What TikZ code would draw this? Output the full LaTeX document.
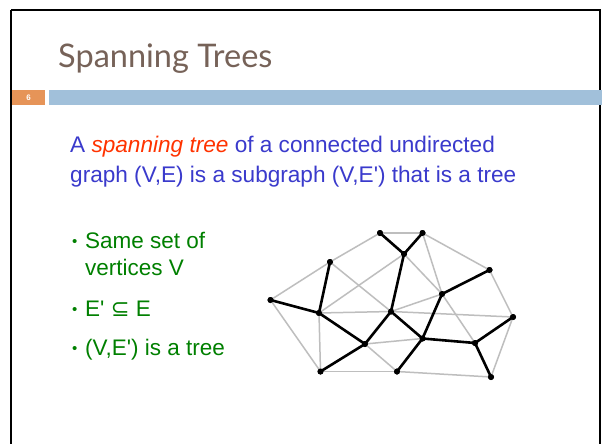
\documentclass[tikz,border=0pt]{standalone}
\usepackage{fontspec}
\setmainfont{Liberation Sans}
\newfontfamily\titlefont{Lato}
\newfontfamily\symfont{DejaVu Sans}
\newfontfamily\aposfont{Liberation Sans}[Ligatures=TeXOff]
\newcommand{\sq}{{\aposfont'}}
\definecolor{titlebrown}{RGB}{118,98,88}
\definecolor{barorange}{RGB}{230,148,88}
\definecolor{barblue}{RGB}{161,192,218}
\definecolor{txtblue}{RGB}{58,58,204}
\definecolor{txtred}{RGB}{255,51,0}
\definecolor{txtgreen}{RGB}{0,128,0}
\definecolor{edgegray}{RGB}{190,190,190}
\begin{document}
\begin{tikzpicture}[x=1pt,y=-1pt,
  dot/.style={circle,fill=black,inner sep=0pt,minimum size=6pt},
  gedge/.style={draw=edgegray,line width=1.5pt},
  tedge/.style={draw=black,line width=2.6pt},
  txt/.style={anchor=base west,inner sep=0pt},
  bul/.style={anchor=base west,inner sep=0pt,text=txtgreen,font=\fontsize{22.5}{26}\selectfont},
  bulmark/.style={anchor=base west,inner sep=0pt,text=txtgreen,font=\fontsize{15}{18}\selectfont}]
\useasboundingbox (0,0) rectangle (602,444);
\fill[white] (0,0) rectangle (602,444);
% frame
\draw[line width=1.6pt,black] (11,9.8) -- (600.2,9.8) -- (600.2,460);
\draw[line width=1.6pt,black] (11,9.8) -- (11,460);
% bars
\fill[barorange] (12,90) rectangle (45,104.5);
\fill[barblue] (49,90) rectangle (602,104.5);
\node[text=white,font=\bfseries\fontsize{8}{9}\selectfont] (num) at (28.5,97.5) {6};
% title
\node[txt,text=titlebrown,font=\titlefont\fontsize{32.5}{38}\selectfont] (title) at (58,67) {Spanning Trees};
% definition
\node[txt,text=txtblue,font=\fontsize{22.6}{27}\selectfont] (def1) at (70,152) {A \textcolor{txtred}{\itshape spanning tree} of a connected undirected};
\node[txt,text=txtblue,font=\fontsize{22.6}{27}\selectfont] (def2) at (70,182) {graph (V,E) is a subgraph (V,E\sq) that is a tree};
% bullets
\node[bulmark] (b1) at (72,246) {•};
\node[bul] (t1) at (85,248) {Same set of};
\node[bul] (t1b) at (85,275) {vertices V};
\node[bulmark] (b2) at (72,314) {•};
\node[bul] (t2) at (85,316) {E\sq{} {\symfont ⊆} E};
\node[bulmark] (b3) at (72,353) {•};
\node[bul] (t3) at (85,355) {(V,E\sq) is a tree};
% graph nodes
\node[dot] (a) at (380,233) {};
\node[dot] (b) at (422.5,233) {};
\node[dot] (c) at (404,254) {};
\node[dot] (d) at (330,262) {};
\node[dot] (e) at (489.5,270) {};
\node[dot] (f) at (442,294) {};
\node[dot] (g) at (270.5,300) {};
\node[dot] (h) at (319,313) {};
\node[dot] (i) at (391,311.5) {};
\node[dot] (j) at (513,317) {};
\node[dot] (k) at (422.5,338.5) {};
\node[dot] (l) at (475,343) {};
\node[dot] (m) at (365,344) {};
\node[dot] (n) at (320.5,371.5) {};
\node[dot] (o) at (397,371.5) {};
\node[dot] (p) at (491,377) {};
% gray edges
\foreach \u/\v in {a/b,a/d,b/e,b/f,c/f,c/h,d/g,d/i,f/i,f/l,e/j,h/i,i/j,h/n,g/n,m/k,m/o,n/o,o/p,j/p}
  \path[gedge] (\u.center) -- (\v.center);
% tree edges
\foreach \u/\v in {a/c,b/c,c/i,d/h,g/h,h/m,i/m,i/k,m/n,k/o,k/f,f/e,k/l,l/j,l/p}
  \path[tedge] (\u.center) -- (\v.center);
% redraw dots on top
\foreach \x in {a,b,c,d,e,f,g,h,i,j,k,l,m,n,o,p}
  \fill (\x.center) circle (3pt);
\end{tikzpicture}
\end{document}
